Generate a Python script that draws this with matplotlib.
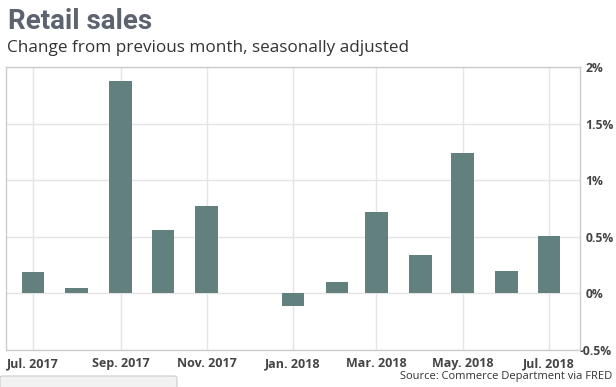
import matplotlib
matplotlib.use("Agg")
import matplotlib.pyplot as plt
import matplotlib.dates as mdates
import matplotlib.ticker as mticker
import matplotlib.transforms as mtransforms
from matplotlib.patches import FancyBboxPatch
import pandas as pd

# Monthly retail sales, % change from previous month
months = pd.date_range("2017-07-01", "2018-07-01", freq="MS")
values = [0.19, 0.05, 1.88, 0.56, 0.77, 0.0, -0.11, 0.10, 0.72, 0.34, 1.24, 0.20, 0.51]
tick_months = ["2017-07-01", "2017-09-01", "2017-11-01", "2018-01-01",
               "2018-03-01", "2018-05-01", "2018-07-01"]
y_ticks = [-0.5, 0, 0.5, 1, 1.5, 2]

bar_color = "#62807e"
grid_color = "#e4e4e4"
text_color = "#444444"

fig = plt.figure(figsize=(6.16, 3.87), dpi=100)
ax = fig.add_axes([6 / 616, 37 / 387, 574 / 616, 283 / 387])

ax.bar(months, values, width=16, color=bar_color, zorder=3)

ax.set_ylim(-0.5, 2)
ax.set_xlim(pd.Timestamp("2017-06-12"), pd.Timestamp("2018-07-23"))
ax.set_yticks(y_ticks)
ax.yaxis.set_major_formatter(mticker.FuncFormatter(lambda v, p: f"{v:g}%"))
ax.yaxis.tick_right()
ax.set_xticks(pd.to_datetime(tick_months))
ax.xaxis.set_major_formatter(mdates.DateFormatter("%b. %Y"))

ax.grid(True, color=grid_color, linewidth=1, zorder=0)
for s in ax.spines.values():
    s.set_color("#cccccc")
    s.set_linewidth(1)
ax.tick_params(length=0, pad=5)
ax.tick_params(axis="y", pad=4)
fig.canvas.draw()
for lab in ax.get_xticklabels():
    lab.set_fontfamily("Open Sans")
    lab.set_fontweight("bold")
    lab.set_fontsize(9)
    lab.set_color(text_color)
for lab in ax.get_yticklabels():
    lab.set_fontfamily("Open Sans")
    lab.set_fontweight("bold")
    lab.set_fontsize(8.7)
    lab.set_color(text_color)
# bottom label is nudged left so it fits in the frame
low = ax.get_yticklabels()[0]
low.set_transform(low.get_transform() +
                  mtransforms.ScaledTranslation(-6 / 100, 0, fig.dpi_scale_trans))

fig.text(8 / 616, 1 - 29 / 387, "Retail sales", fontsize=20, fontweight="bold",
         family="Roboto", color="#5d6470", va="baseline", ha="left")
fig.text(7 / 616, 1 - 52 / 387, "Change from previous month, seasonally adjusted",
         fontsize=12.3, family="Open Sans", color="#333333", va="baseline", ha="left")
fig.text(612 / 616, 1 - 377 / 387, "Source: Commerce Department via FRED",
         fontsize=8, family="Open Sans", color="#333333", va="center", ha="right")

box = FancyBboxPatch((0, -0.05), 177 / 616, (11 / 387) + 0.05,
                     boxstyle="round,pad=0,rounding_size=0.005",
                     transform=fig.transFigure, facecolor="#f2f2f2",
                     edgecolor="#cccccc", linewidth=0.8)
fig.patches.append(box)

fig.savefig("out.png", dpi=100)
